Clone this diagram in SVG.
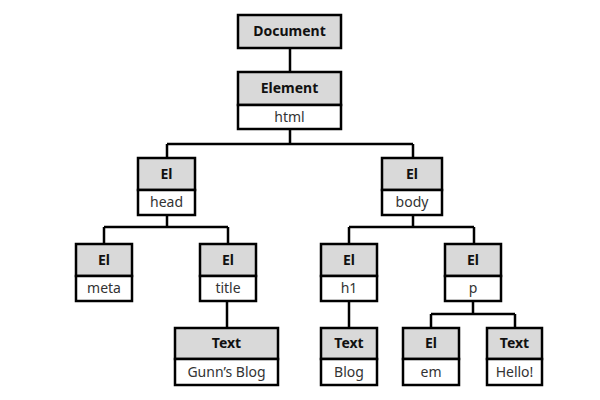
<svg xmlns="http://www.w3.org/2000/svg" width="600" height="400" viewBox="0 0 600 400">
<style>
.h{fill:#d9d9d9;stroke:#000;stroke-width:2.5}
.v{fill:#fff;stroke:#000;stroke-width:2.5}
.t{font-family:"Noto Sans","Noto Sans CJK KR",sans-serif;font-size:14px;font-weight:bold;fill:#111;text-anchor:middle}
.s{font-family:"Noto Sans","Noto Sans CJK KR",sans-serif;font-size:14px;fill:#333;text-anchor:middle}
.c{fill:none;stroke:#000;stroke-width:2.5}
</style>
<rect width="600" height="400" fill="#fff"/>
<g id="connectors">
<path class="c" d="M290 48V72"/>
<path class="c" d="M290 129V144M167 144H413M167 144V158M413 144V158"/>
<path class="c" d="M167 215V227M104 227H228M104 227V244M228 227V244"/>
<path class="c" d="M413 215V227M349 227H474M349 227V244M474 227V244"/>
<path class="c" d="M227 301V328"/>
<path class="c" d="M349 301V328"/>
<path class="c" d="M473 301V314M431 314H515M431 314V328M515 314V328"/>
</g>
<g id="document">
<rect class="h" x="238" y="15" width="103" height="33"/>
<text class="t" x="289.5" y="36">Document</text>
</g>
<g id="html">
<rect class="h" x="238" y="72" width="103" height="33"/>
<rect class="v" x="238" y="105" width="103" height="24"/>
<text class="t" x="289.5" y="93">Element</text>
<text class="s" x="289.5" y="122">html</text>
</g>
<g id="head">
<rect class="h" x="138" y="158" width="57" height="32"/>
<rect class="v" x="138" y="190" width="57" height="25"/>
<text class="t" x="166.5" y="179">El</text>
<text class="s" x="166.5" y="207">head</text>
</g>
<g id="body">
<rect class="h" x="382" y="158" width="60" height="32"/>
<rect class="v" x="382" y="190" width="60" height="25"/>
<text class="t" x="412" y="179">El</text>
<text class="s" x="412" y="207">body</text>
</g>
<g id="meta">
<rect class="h" x="76" y="244" width="56" height="32"/>
<rect class="v" x="76" y="276" width="56" height="25"/>
<text class="t" x="104" y="265">El</text>
<text class="s" x="104" y="293">meta</text>
</g>
<g id="title">
<rect class="h" x="200" y="244" width="56" height="32"/>
<rect class="v" x="200" y="276" width="56" height="25"/>
<text class="t" x="228" y="265">El</text>
<text class="s" x="228" y="293">title</text>
</g>
<g id="h1">
<rect class="h" x="321" y="244" width="56" height="32"/>
<rect class="v" x="321" y="276" width="56" height="25"/>
<text class="t" x="349" y="265">El</text>
<text class="s" x="349" y="293">h1</text>
</g>
<g id="p">
<rect class="h" x="445" y="244" width="56" height="32"/>
<rect class="v" x="445" y="276" width="56" height="25"/>
<text class="t" x="473" y="265">El</text>
<text class="s" x="473" y="293">p</text>
</g>
<g id="text-gunn">
<rect class="h" x="175" y="328" width="103" height="31"/>
<rect class="v" x="175" y="359" width="103" height="26"/>
<text class="t" x="226.5" y="348">Text</text>
<text class="s" x="226.5" y="377">Gunn’s Blog</text>
</g>
<g id="text-blog">
<rect class="h" x="321" y="328" width="56" height="31"/>
<rect class="v" x="321" y="359" width="56" height="26"/>
<text class="t" x="349" y="348">Text</text>
<text class="s" x="349" y="377">Blog</text>
</g>
<g id="em">
<rect class="h" x="403" y="328" width="56" height="31"/>
<rect class="v" x="403" y="359" width="56" height="26"/>
<text class="t" x="431" y="348">El</text>
<text class="s" x="431" y="377">em</text>
</g>
<g id="text-hello">
<rect class="h" x="487" y="328" width="55" height="31"/>
<rect class="v" x="487" y="359" width="55" height="26"/>
<text class="t" x="514.5" y="348">Text</text>
<text class="s" x="514.5" y="377">Hello!</text>
</g>
</svg>
